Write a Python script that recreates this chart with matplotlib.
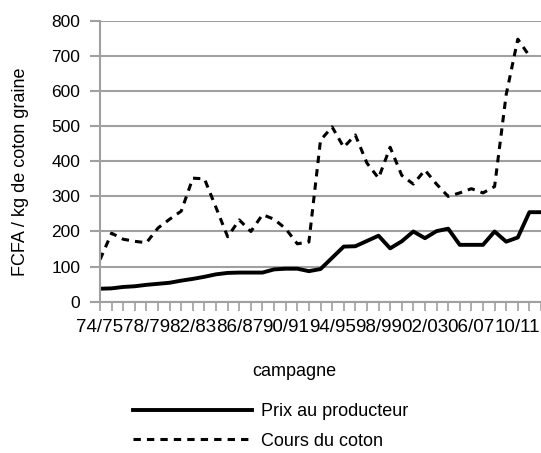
import matplotlib
matplotlib.use('Agg')
import matplotlib.pyplot as plt
import numpy as np

plt.rcParams['font.family'] = ['Liberation Sans', 'DejaVu Sans']

campagnes = ['74/75', '75/76', '76/77', '77/78', '78/79', '79/80', '80/81', '81/82',
             '82/83', '83/84', '84/85', '85/86', '86/87', '87/88', '88/89', '89/90',
             '90/91', '91/92', '92/93', '93/94', '94/95', '95/96', '96/97', '97/98',
             '98/99', '99/00', '00/01', '01/02', '02/03', '03/04', '04/05', '05/06',
             '06/07', '07/08', '08/09', '09/10', '10/11', '11/12', '12/13']

# FCFA / kg
prix_producteur = [37, 38, 42, 44, 48, 51, 54, 60, 65, 71, 78, 82, 83, 83, 83, 92,
                   94, 94, 87, 93, 125, 157, 158, 173, 188, 152, 172, 200, 181, 201,
                   208, 162, 162, 162, 200, 171, 183, 255, 255]
cours_coton = [120, 195, 178, 172, 168, 210, 235, 258, 352, 350, 268, 185, 233, 200,
               248, 235, 208, 165, 170, 460, 498, 440, 475, 395, 352, 440, 360, 335,
               375, 335, 300, 310, 322, 310, 328, 590, 748, 700, np.nan]

labels_shown = ['74/75', '78/79', '82/83', '86/87', '90/91', '94/95', '98/99', '02/03',
                '06/07', '10/11']

grey = '#a0a0a0'

fig = plt.figure(figsize=(5.41, 4.53), dpi=100)
ax = fig.add_axes([100 / 541, (453 - 301.7) / 453, 441 / 541, (301.7 - 20.9) / 453])

x = np.arange(len(campagnes))
l1, = ax.plot(x, prix_producteur, color='black', lw=2.8, solid_joinstyle='round',
              label='Prix au producteur')
l2, = ax.plot(x, cours_coton, color='black', lw=2.2, dashes=(2.4, 2.0),
              label='Cours du coton')

ax.set_ylim(0, 800)
ax.set_yticks(range(0, 801, 100))
ax.set_xlim(0, 441 / 11.62)

major = [campagnes.index(s) for s in labels_shown]
ax.set_xticks(major)
ax.set_xticklabels(labels_shown)
ax.set_xticks(x, minor=True)

ax.yaxis.grid(True, color=grey, lw=1.5)
ax.set_axisbelow(True)
for s in ['top', 'right']:
    ax.spines[s].set_visible(False)
for s in ['left', 'bottom']:
    ax.spines[s].set_color(grey)
    ax.spines[s].set_linewidth(1.5)

ax.tick_params(axis='y', length=7.2, width=1.5, color=grey, pad=7, labelsize=12.5)
ax.tick_params(axis='x', which='both', length=6.5, width=1.2, color=grey, pad=6,
               labelsize=13.5)

fig.text(20.5 / 541, 1 - 172 / 453, 'FCFA / kg de coton graine', rotation=90,
         ha='center', va='center', fontsize=13)
fig.text(294 / 541, 1 - 371 / 453, 'campagne', ha='center', va='center', fontsize=13)

ax.legend(handles=[l1, l2], loc='upper left', bbox_to_anchor=(133 / 541, 1 - 403 / 453),
          bbox_transform=fig.transFigure, frameon=False, borderpad=0, borderaxespad=0,
          handlelength=6.6, handletextpad=0.5, labelspacing=0.7, fontsize=13)

fig.savefig('out.png', dpi=100)
